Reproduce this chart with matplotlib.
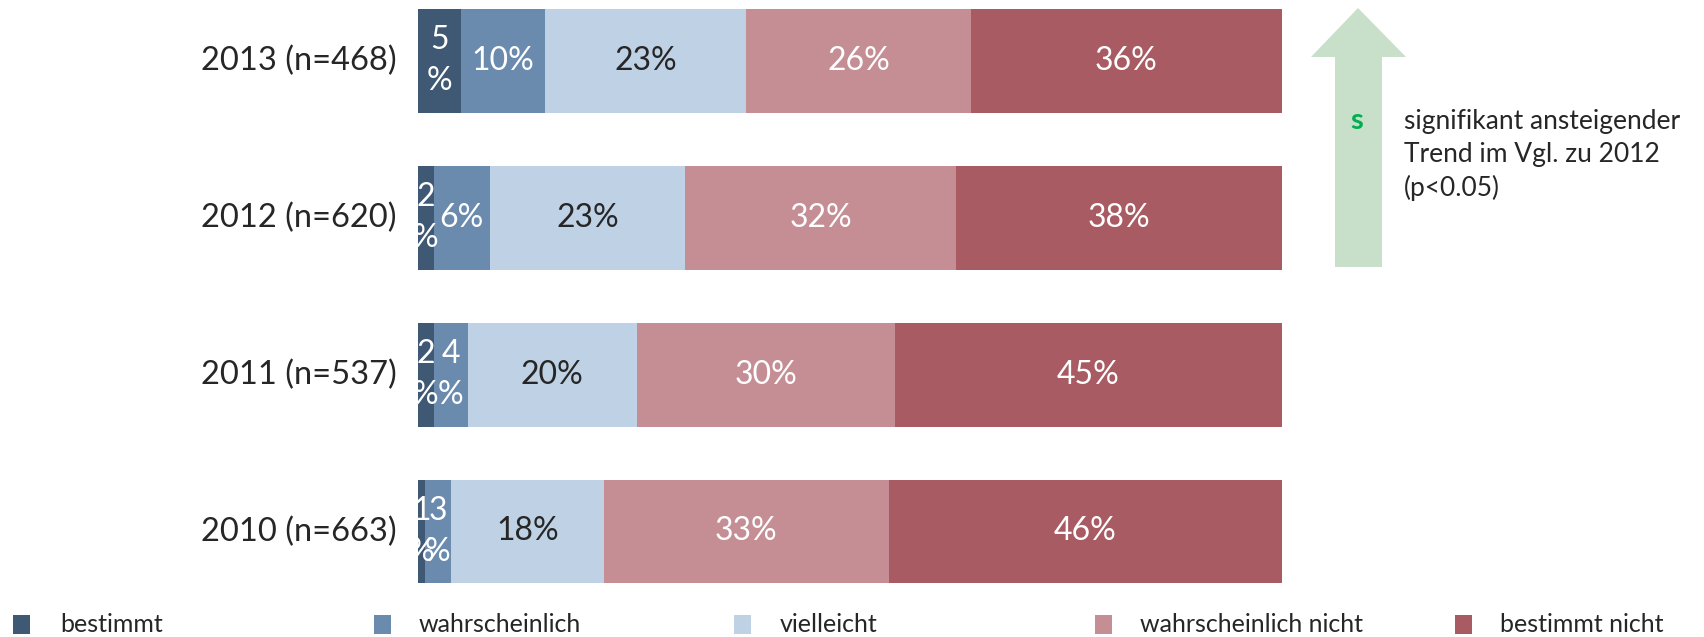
import matplotlib
matplotlib.use("Agg")
import matplotlib.pyplot as plt
from matplotlib.patches import Polygon, Rectangle
import numpy as np

plt.rcParams['font.family'] = ['Lato', 'DejaVu Sans']

years = ["2013 (n=468)", "2012 (n=620)", "2011 (n=537)", "2010 (n=663)"]
categories = ["bestimmt", "wahrscheinlich", "vielleicht", "wahrscheinlich nicht", "bestimmt nicht"]
colors = ["#3f5873", "#6a8bad", "#bfd1e5", "#c58e94", "#a85b62"]
text_colors = ["white", "white", "#262626", "white", "white"]

bestimmt = [5.0, 1.8, 1.8, 0.8]
wahrscheinlich = [9.7, 6.5, 4.0, 3.0]
vielleicht = [23.3, 22.6, 19.5, 17.7]
wahrscheinlich_nicht = [26.0, 31.4, 29.9, 33.0]
bestimmt_nicht = [36.0, 37.7, 44.8, 45.5]

lbl_bestimmt = ["5\n%", "2\n%", "2\n%", "1\n%"]
lbl_wahrscheinlich = ["10%", "6%", "4\n%", "3\n%"]
lbl_vielleicht = ["23%", "23%", "20%", "18%"]
lbl_wahrscheinlich_nicht = ["26%", "32%", "30%", "33%"]
lbl_bestimmt_nicht = ["36%", "38%", "45%", "46%"]

series = [bestimmt, wahrscheinlich, vielleicht, wahrscheinlich_nicht, bestimmt_nicht]
labels = [lbl_bestimmt, lbl_wahrscheinlich, lbl_vielleicht, lbl_wahrscheinlich_nicht, lbl_bestimmt_nicht]

W, H = 1704, 637
fig = plt.figure(figsize=(W / 100, H / 100), dpi=100)

# axes: x from 418 to 1282 px, y from 0 to 600 px
ax = fig.add_axes([418 / W, 1 - 600 / H, (1282 - 418) / W, 600 / H])
spacing = 157.0
top_val = -60.9 / spacing
bot_val = 3 + (600 - 531.4) / spacing
ax.set_xlim(0, 100)
ax.set_ylim(bot_val, top_val)
ax.axis('off')

ypos = np.arange(len(years))
bar_h = 104 / spacing
left = np.zeros(len(years))
for vals, col, tcol, lbls in zip(series, colors, text_colors, labels):
    vals = np.array(vals)
    ax.barh(ypos, vals, left=left, height=bar_h, color=col, edgecolor='none')
    for y, v, l, lb in zip(ypos, vals, left, lbls):
        ax.text(l + v / 2, y, lb, ha='center', va='center', color=tcol,
                fontsize=23, linespacing=1.45, clip_on=True)
    left += vals

for y, name in zip(ypos, years):
    ax.text(-2.5, y, name, ha='right', va='center', fontsize=23.5, color='#262626', clip_on=False)

# trend arrow
def fx(px):
    return px / W

def fy(py):
    return 1 - py / H

arrow_pts = [(1358, 8), (1406, 57), (1382, 57), (1382, 267), (1335, 267), (1335, 57), (1311, 57)]
fig.add_artist(Polygon([(fx(x), fy(y)) for x, y in arrow_pts], closed=True,
                       transform=fig.transFigure, facecolor="#c8dfc9", edgecolor='none'))
fig.text(fx(1357), fy(121), "s", ha='center', va='center', fontsize=21, fontweight='bold', color="#00b050")
fig.text(fx(1404), fy(155), "signifikant ansteigender\nTrend im Vgl. zu 2012\n(p<0.05)",
         ha='left', va='center', fontsize=19, color='#262626', linespacing=1.4)

# legend
marker_x = [13, 374, 734, 1095, 1455]
text_x = [60, 419, 780, 1140, 1500]
for mx, tx, col, cat in zip(marker_x, text_x, colors, categories):
    fig.add_artist(Rectangle((fx(mx), fy(634)), 17 / W, 19 / H, transform=fig.transFigure,
                             facecolor=col, edgecolor='none'))
    fig.text(fx(tx), fy(625), cat, ha='left', va='center', fontsize=18, color='#262626')

fig.savefig("out.png", dpi=100)
